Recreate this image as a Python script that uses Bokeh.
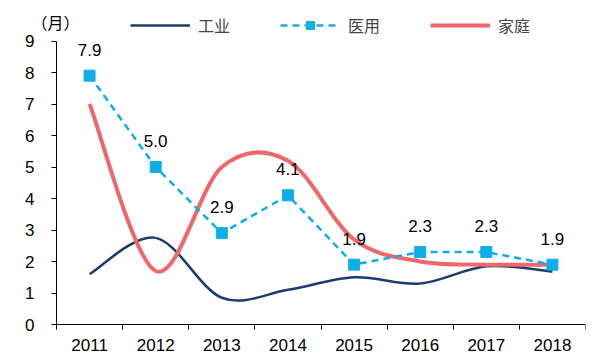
from bokeh.plotting import figure
from bokeh.models import Range1d, FixedTicker, Legend, LegendItem, Label, ColumnDataSource
from bokeh.embed import file_html
from bokeh.resources import INLINE
from bokeh.core.properties import value

years = ["2011", "2012", "2013", "2014", "2015", "2016", "2017", "2018"]
industrial = [1.6, 2.75, 0.85, 1.1, 1.5, 1.3, 1.85, 1.68]
medical = [7.9, 5.0, 2.9, 4.1, 1.9, 2.3, 2.3, 1.9]
household = [7.0, 1.7, 5.0, 5.2, 2.7, 2.0, 1.9, 1.9]
series_names = ["工业", "医用", "家庭"]
unit_label = "（月）"
y_ticks = [0, 1, 2, 3, 4, 5, 6, 7, 8, 9]

C_IND = "#1B3A6E"
C_MED = "#0FAEE9"
C_HH = "#F0676B"
NUM_FONT = "Liberation Sans"
CJK_FONT = "Noto Sans CJK SC"

xs = list(range(len(years)))

# layout (pixels)
W, H = 600, 357
AXIS_X = 56.0          # y axis position
RIGHT = 585.0          # right end of x axis
AXIS_Y = 324.0         # x axis position (from top)
TOP = 3.0
PX_PER_CAT = (RIGHT - AXIS_X) / len(years)
PX_PER_UNIT = 31.5
X_START = -0.5 - AXIS_X / PX_PER_CAT
Y_START = -(H - AXIS_Y) / PX_PER_UNIT
Y_END = (AXIS_Y - TOP) / PX_PER_UNIT
LEGEND_CY = 27


def smooth_source(x, y):
    n = len(x)
    d = dict(x0=[], y0=[], x1=[], y1=[], cx0=[], cy0=[], cx1=[], cy1=[])
    for i in range(n - 1):
        a = i - 1 if i > 0 else i
        b = i + 2 if i + 2 < n else i + 1
        d["x0"].append(x[i]); d["y0"].append(y[i])
        d["x1"].append(x[i + 1]); d["y1"].append(y[i + 1])
        d["cx0"].append(x[i] + (x[i + 1] - x[a]) / 6.0)
        d["cy0"].append(y[i] + (y[i + 1] - y[a]) / 6.0)
        d["cx1"].append(x[i + 1] - (x[b] - x[i]) / 6.0)
        d["cy1"].append(y[i + 1] - (y[b] - y[i]) / 6.0)
    return ColumnDataSource(d)


p = figure(width=W, height=H, output_backend="svg", toolbar_location=None,
           x_range=Range1d(X_START, len(years) - 0.5), y_range=Range1d(Y_START, Y_END),
           min_border_left=0, min_border_right=int(W - RIGHT), min_border_top=int(TOP),
           min_border_bottom=0)
p.outline_line_color = None
p.xgrid.visible = False
p.ygrid.visible = False
p.background_fill_color = "white"
p.border_fill_color = "white"

# axes
xa = p.xaxis[0]
xa.fixed_location = 0
xa.bounds = (-0.5, len(years) - 0.5)
xa.ticker = FixedTicker(ticks=xs, minor_ticks=[i - 0.5 for i in range(len(years) + 1)])
xa.major_label_overrides = {i: years[i] for i in xs}
xa.major_tick_out = 0
xa.major_tick_in = 0
xa.minor_tick_out = 5
xa.minor_tick_in = 0
xa.minor_tick_line_color = "black"
xa.axis_line_color = "black"
xa.major_label_text_font = NUM_FONT
xa.major_label_text_font_size = "17px"
xa.major_label_text_color = "black"
xa.major_label_standoff = 9

ya = p.yaxis[0]
ya.fixed_location = -0.5
ya.ticker = FixedTicker(ticks=y_ticks, minor_ticks=[])
ya.bounds = (0, 9)
ya.major_tick_out = 5
ya.major_tick_in = 0
ya.major_tick_line_color = "black"
ya.axis_line_color = "black"
ya.major_label_text_font = NUM_FONT
ya.major_label_text_font_size = "17px"
ya.major_label_text_color = "black"
ya.major_label_standoff = 17

# series
r_ind = p.bezier(x0="x0", y0="y0", x1="x1", y1="y1", cx0="cx0", cy0="cy0", cx1="cx1", cy1="cy1",
                 source=smooth_source(xs, industrial), line_color=C_IND, line_width=2.5)
r_hh = p.bezier(x0="x0", y0="y0", x1="x1", y1="y1", cx0="cx0", cy0="cy0", cx1="cx1", cy1="cy1",
                source=smooth_source(xs, household), line_color=C_HH, line_width=4)
r_med_line = p.line(xs, medical, line_color=C_MED, line_width=2.5, line_dash="7 5")
r_med_pts = p.scatter(xs, medical, marker="square", size=11, fill_color=C_MED, line_color=C_MED)

p.text(x=xs, y=medical, text=["%.1f" % v for v in medical], text_align="center",
       text_baseline="middle", y_offset=-26, text_font=value(NUM_FONT),
       text_font_size="17px", text_color="black")

legend = Legend(items=[
    LegendItem(label=series_names[0], renderers=[r_ind]),
    LegendItem(label=series_names[1], renderers=[r_med_line, r_med_pts]),
    LegendItem(label=series_names[2], renderers=[r_hh]),
], orientation="horizontal", location=(130, int(H - LEGEND_CY - 10)), padding=0, margin=0,
    spacing=50, glyph_width=60, glyph_height=20, label_standoff=8,
    label_text_font=CJK_FONT, label_text_font_size="16px",
    border_line_color=None, background_fill_alpha=0)
p.add_layout(legend, "center")

p.add_layout(Label(x=X_START + 55 / PX_PER_CAT, y=(AXIS_Y - 21) / PX_PER_UNIT, text=unit_label,
                   text_align="center", text_baseline="middle",
                   text_font=CJK_FONT, text_font_size="16px", text_color="black"))

open("out.html", "w").write(file_html(p, INLINE))
